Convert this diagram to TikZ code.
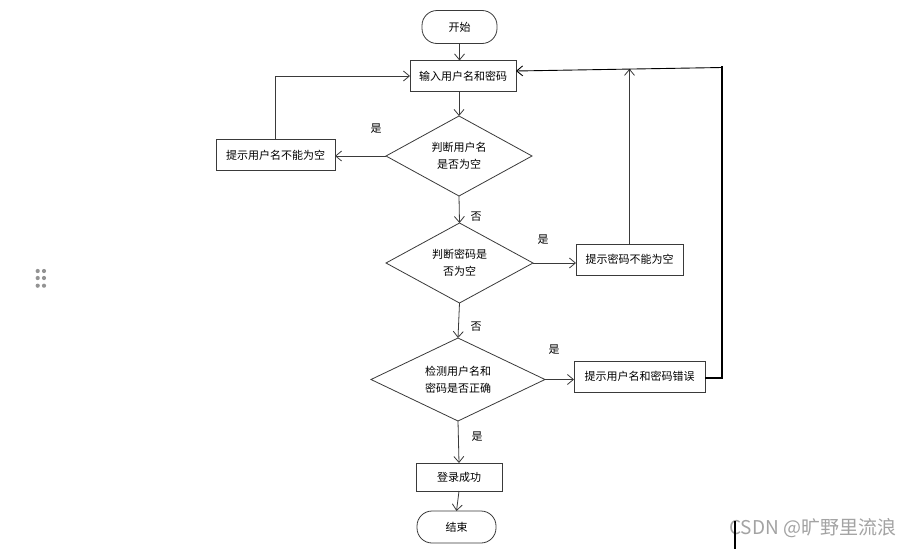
\documentclass[tikz,border=0pt]{standalone}
\usepackage{fontspec}
\newfontfamily\cjk{Noto Sans CJK SC}
\usetikzlibrary{shapes.geometric,arrows.meta}
\definecolor{ln}{HTML}{3A3A3A}
\definecolor{wmc}{HTML}{A3A3A3}
\tikzset{
  base/.style={font=\cjk\fontsize{11}{17}\selectfont, text=black, draw=ln, line width=0.8pt, inner sep=0pt, outer sep=0pt, align=center},
  procbox/.style={base, rectangle, minimum height=31pt},
  termbox/.style={base, rectangle, rounded corners=15pt},
  decision/.style={base, diamond, aspect=2},
  conn/.style={draw=ln, line width=0.8pt, -{Straight Barb[length=6pt,width=10pt]}},
  loopline/.style={draw=black, line width=1.4pt},
  lbl/.style={font=\cjk\fontsize{11}{13}\selectfont, inner sep=0pt}
}
\begin{document}
\begin{tikzpicture}[x=1pt,y=-1pt]
\useasboundingbox[fill=white] (0,0) rectangle (916,549);
% nodes
\node[termbox, minimum width=75pt, minimum height=33pt] (start) at (459.5,27) {开始};
\node[procbox, minimum width=106pt] (input) at (463,76) {输入用户名和密码};
\node[decision, minimum width=146pt, minimum height=80pt] (d1) at (459,156) {判断用户名\\是否为空};
\node[procbox, minimum width=119pt] (warn1) at (275.5,155) {提示用户名不能为空};
\node[decision, minimum width=147pt, minimum height=80pt] (d2) at (459.5,263) {判断密码是\\否为空};
\node[procbox, minimum width=107pt] (warn2) at (629.5,259.5) {提示密码不能为空};
\node[decision, minimum width=174pt, minimum height=83pt] (d3) at (458,379.5) {检测用户名和\\密码是否正确};
\node[procbox, minimum width=131pt] (err) at (639.5,376.5) {提示用户名和密码错误};
\node[procbox, minimum width=86pt, minimum height=28pt] (ok) at (459,477) {登录成功};
\node[termbox, minimum width=79pt, minimum height=32pt] (end) at (456.5,527) {结束};
\coordinate (loopR) at (722,67.5);
\coordinate (loopTop) at (722,66);
\coordinate (meet) at (629.5,68.8);
% connectors
\draw[conn] (start.south) -- (start.south |- input.north);
\draw[conn] (d1.north |- input.south) -- (d1.north);
\draw[conn] (d1.west) -- (d1.west -| warn1.east);
\draw[conn] (warn1.north) |- (input.west);
\draw[conn] (d1.south) -- (d2.north);
\draw[conn] (d2.east) -- (d2.east -| warn2.west);
\draw[conn] (warn2.north) -- (meet);
\draw[conn] (d2.south) -- (d3.north);
\draw[conn] (d3.east) -- (d3.east -| err.west);
\draw[loopline] ([yshift=-1.5pt]err.east) -| (loopTop);
\draw[draw=black, line width=0.9pt, -{Straight Barb[length=6pt,width=10pt]}] (loopR) -- ([yshift=5pt]input.east);
\draw[conn] (d3.south) -- (ok.north);
\draw[conn] (ok.south) -- (end.north);
% labels
\node[lbl] (l1) at (376,129) {是};
\node[lbl] (l2) at (476,217) {否};
\node[lbl] (l3) at (543,240) {是};
\node[lbl] (l4) at (476,327) {否};
\node[lbl] (l5) at (554,350) {是};
\node[lbl] (l6) at (477,437) {是};
% drag handle dots
\foreach \dx in {37.7,44}{\foreach \dy in {271,278,285.7}{\fill[gray!85] (\dx,\dy) circle (2.1pt);}}
% watermark
\node[font=\cjk\fontsize{19}{22}\selectfont, text=wmc, inner sep=0pt, anchor=west] (wm) at (729,528) {CSDN @旷野里流浪};
\draw[black, line width=1.8pt] (735,521) -- (735,549);
\end{tikzpicture}
\end{document}
